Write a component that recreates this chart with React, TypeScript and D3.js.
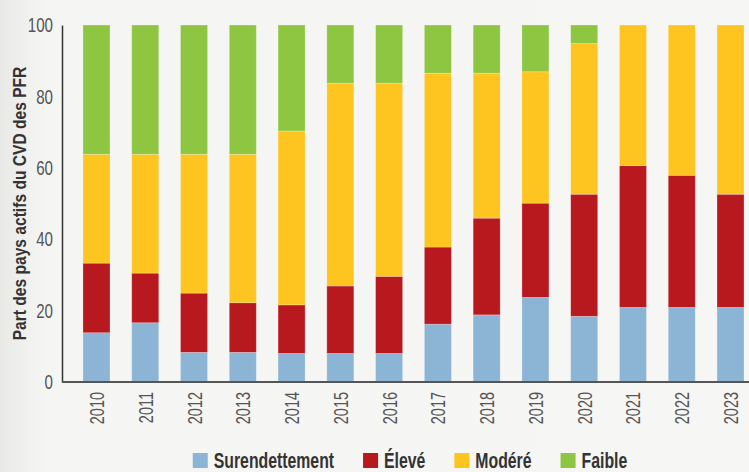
import React, { useRef, useEffect } from 'react'
import * as d3 from 'd3'

const years = ['2010', '2011', '2012', '2013', '2014', '2015', '2016', '2017', '2018', '2019', '2020', '2021', '2022', '2023']
const categories = ['Surendettement', 'Élevé', 'Modéré', 'Faible']
const surendettement = [13.8, 16.6, 8.3, 8.3, 8.0, 8.0, 8.0, 16.2, 18.8, 23.7, 18.4, 20.9, 20.9, 20.9]
const eleve = [19.5, 13.9, 16.6, 13.9, 13.6, 18.9, 21.6, 21.6, 27.1, 26.4, 34.2, 39.7, 37.0, 31.7]
const modere = [30.5, 33.3, 38.9, 41.6, 48.7, 56.8, 54.1, 48.7, 40.6, 36.8, 42.2, 39.4, 42.1, 47.4]
const faible = [36.2, 36.2, 36.2, 36.2, 29.7, 16.3, 16.3, 13.5, 13.5, 13.1, 5.2, 0, 0, 0]
const yTicks = [0, 20, 40, 60, 80, 100]
const colors = ['#8cb4d4', '#b8191f', '#fec520', '#8fc641']

const FONT = "'Liberation Sans', Arial, sans-serif"

// squeeze text horizontally to mimic a condensed face
function condense(sel: any, factor: number) {
  sel.each(function (this: SVGTextElement) {
    const w = this.getComputedTextLength()
    d3.select(this).attr('textLength', w * factor).attr('lengthAdjust', 'spacingAndGlyphs')
  })
}

export default function App() {
  const ref = useRef<HTMLDivElement>(null)

  useEffect(() => {
    const el = ref.current
    if (!el) return
    document.body.style.margin = '0'

    const width = 749
    const height = 472
    const rows = years.map((y, i) => ({
      year: y,
      Surendettement: surendettement[i],
      'Élevé': eleve[i],
      'Modéré': modere[i],
      Faible: faible[i],
    }))

    const svg = d3.select(el).html('').append('svg')
      .attr('width', width).attr('height', height)
      .style('display', 'block')
      .style('font-family', FONT)

    const defs = svg.append('defs')
    const grad = defs.append('linearGradient').attr('id', 'bg').attr('x1', 0).attr('x2', 1).attr('y1', 0).attr('y2', 0)
    grad.append('stop').attr('offset', '0%').attr('stop-color', '#e9e9e8')
    grad.append('stop').attr('offset', '6%').attr('stop-color', '#f5f5f3')
    grad.append('stop').attr('offset', '100%').attr('stop-color', '#f6f6f4')
    svg.append('rect').attr('width', width).attr('height', height).attr('fill', 'url(#bg)')

    const x = d3.scaleBand().domain(years).range([62, 765]).paddingInner(0.446).paddingOuter(0.43)
    const y = d3.scaleLinear().domain([0, 100]).range([382, 25])

    const stacked = d3.stack<any>().keys(categories)(rows)

    svg.append('g').selectAll('g').data(stacked).join('g')
      .attr('fill', (_d, i) => colors[i])
      .attr('stroke', '#fff')
      .attr('stroke-opacity', 0.3)
      .attr('stroke-width', 0.8)
      .selectAll('rect').data(d => d.filter(s => s[1] > s[0])).join('rect')
      .attr('x', d => x(d.data.year) as number)
      .attr('width', x.bandwidth())
      .attr('y', d => y(d[1]))
      .attr('height', d => Math.max(0, y(d[0]) - y(d[1])))

    // y axis
    const yAxis = svg.append('g').attr('transform', 'translate(62,0)')
      .call(d3.axisLeft(y).tickValues(yTicks).tickSize(0).tickPadding(9))
    yAxis.select('.domain').attr('stroke', '#333').attr('stroke-width', 1.5)
    const yLabels = yAxis.selectAll('text').attr('font-size', 21).attr('fill', '#555').attr('font-family', FONT)
    condense(yLabels, 0.72)

    // x axis
    const xAxis = svg.append('g').attr('transform', 'translate(0,382)')
      .call(d3.axisBottom(x).tickSize(0))
    xAxis.select('.domain').attr('stroke', '#555').attr('stroke-width', 2)
      .attr('d', 'M62,0H749')
    const xLabels = xAxis.selectAll('text')
      .attr('font-size', 21)
      .attr('fill', '#555')
      .attr('font-family', FONT)
      .attr('text-anchor', 'end')
      .attr('dy', null)
      .attr('y', 0)
      .attr('transform', 'translate(7.5,10) rotate(-90)')
    condense(xLabels, 0.69)

    // y title
    const title = svg.append('text')
      .attr('transform', `translate(26,${(y(0) + y(100)) / 2}) rotate(-90)`)
      .attr('text-anchor', 'middle')
      .attr('font-size', 19)
      .attr('font-weight', 700)
      .attr('fill', '#333')
      .text('Part des pays actifs du CVD des PFR')
    condense(title, 0.82)

    // legend
    const legend = svg.append('g').attr('transform', 'translate(0,468)')
    const items = legend.selectAll('g').data(categories).join('g')
    items.append('rect').attr('y', -15).attr('width', 15).attr('height', 15).attr('fill', (_d, i) => colors[i])
    const ltext = items.append('text')
      .attr('x', 21)
      .attr('font-size', 21.5)
      .attr('font-weight', 700)
      .attr('fill', '#333')
      .text(d => d)
    condense(ltext, 0.735)
    let pos = 0
    const offsets: number[] = []
    items.each(function () {
      offsets.push(pos)
      const t = d3.select(this).select('text').node() as SVGTextElement
      const w = +(t.getAttribute('textLength') || t.getComputedTextLength())
      pos += 21 + w + 29
    })
    const total = pos - 29
    const start = 410 - total / 2
    items.attr('transform', (_d, i) => `translate(${start + offsets[i]},0)`)
  }, [])

  return <div ref={ref} />
}
